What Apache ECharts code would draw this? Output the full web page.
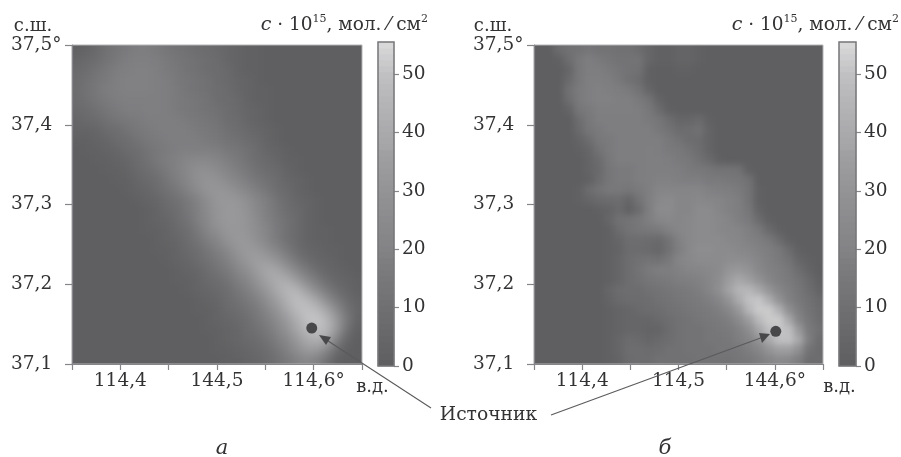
<!DOCTYPE html>
<html><head><meta charset="utf-8">
<style>html,body{margin:0;padding:0;background:#fff}#c{width:901px;height:457px}</style>
<script src="https://cdn.jsdelivr.net/npm/echarts@6/dist/echarts.min.js"></script>
</head><body><div id="c"></div>
<script>
// rows run from north to south; a row that stops early is 0 for the rest of its cells
const concentrationA = [
[1,3,6,10,13,15,17,17,15,13,11,10,8,7,6,4,3,1,1],
[4,6,8,11,14,17,18,18,17,15,13,11,10,8,7,4,3,1,1],
[6,8,11,14,17,18,19,19,18,15,14,11,10,8,7,6,3,1,1],
[7,10,13,15,18,19,19,19,18,17,14,13,11,10,7,6,4,3,1],
[7,11,14,17,18,19,19,19,18,17,15,13,11,10,8,7,4,3,1,1],
[7,10,13,15,17,18,18,18,18,17,15,14,13,11,8,7,6,3,1,1],
[6,7,10,13,15,17,17,18,18,17,15,14,13,11,10,8,6,4,3,1],
[4,6,7,10,13,14,15,17,17,17,17,15,14,13,11,8,7,4,3,1],
[3,3,4,7,8,11,14,15,17,17,17,17,15,14,13,10,8,6,4,3,1],
[1,1,3,4,7,8,11,14,15,17,17,17,17,15,14,11,10,7,6,3,1],
[0,1,1,3,4,7,8,11,14,15,18,18,18,18,17,14,13,10,7,4,3,1],
[0,0,1,1,3,4,7,10,14,17,19,22,23,23,21,18,15,11,8,6,4,1,1],
[0,0,0,1,1,3,6,8,11,15,19,23,27,27,25,21,17,14,10,7,6,3,1],
[0,0,0,0,1,1,4,6,8,13,17,22,27,30,29,25,21,17,13,10,7,4,3,1],
[0,0,0,0,0,1,3,4,7,10,14,19,25,30,31,30,26,22,17,13,8,6,3,1],
[0,0,0,0,0,0,1,3,4,7,10,14,19,26,31,32,31,27,22,17,11,7,4,3,1],
[0,0,0,0,0,0,0,1,3,6,8,13,18,25,30,32,32,29,23,18,13,8,6,3,1],
[0,0,0,0,0,0,0,1,3,4,7,11,17,23,30,32,32,30,25,19,14,10,6,3,1],
[0,0,0,0,0,0,0,1,1,3,6,8,14,21,27,31,32,30,26,21,15,10,6,3,1,1],
[0,0,0,0,0,0,0,0,1,3,4,7,11,17,22,29,32,32,27,22,15,10,6,3,1,1],
[0,0,0,0,0,0,0,0,1,1,3,6,8,13,18,23,30,33,32,27,21,14,8,4,3,1,1],
[0,0,0,0,0,0,0,0,0,1,3,4,7,10,14,19,26,32,35,34,29,21,13,7,4,3,1],
[0,0,0,0,0,0,0,0,0,0,1,3,4,7,11,15,21,27,34,39,38,31,22,14,8,4,3,1],
[0,0,0,0,0,0,0,0,0,0,1,1,3,6,8,11,17,22,30,37,42,41,33,23,15,8,4,3,1],
[0,0,0,0,0,0,0,0,0,0,0,1,3,4,6,8,13,18,25,32,40,46,45,35,25,15,8,4,1],
[0,0,0,0,0,0,0,0,0,0,0,0,1,3,4,7,10,14,19,27,35,43,49,46,38,26,15,7,3],
[0,0,0,0,0,0,0,0,0,0,0,0,1,1,3,6,7,11,15,22,30,39,47,50,47,38,25,11,4],
[0,0,0,0,0,0,0,0,0,0,0,0,0,1,3,4,6,8,13,18,25,33,42,50,51,46,32,15,3],
[0,0,0,0,0,0,0,0,0,0,0,0,0,1,1,3,4,7,10,14,21,29,38,46,49,46,32,10,1],
[0,0,0,0,0,0,0,0,0,0,0,0,0,0,1,3,4,6,7,11,17,23,32,40,43,38,19,4,0],
[0,0,0,0,0,0,0,0,0,0,0,0,0,0,1,1,3,4,6,8,13,19,27,33,33,23,7,1,0],
[0,0,0,0,0,0,0,0,0,0,0,0,0,0,0,1,1,3,4,6,10,14,19,23,19,10,1,0,0]
];
const concentrationB = [
[0,0,7,10,11,13,11,11,10,10,8,4,1,1,3,3,1],
[0,0,1,8,14,17,15,13,11,11,11,4,1,1,3,3,1],
[0,0,0,4,14,17,17,15,13,11,10,1,0,0,1,1,0],
[0,0,0,6,14,18,18,17,14,10,7,1],
[0,0,0,10,15,18,19,18,17,15,11,4],
[0,0,0,8,15,18,19,19,18,18,15,11,3],
[0,0,0,3,13,15,18,18,18,18,17,14,7,1],
[0,0,0,0,8,14,17,17,17,17,17,15,13,8,4,4,6,1],
[0,0,0,0,6,13,15,17,17,17,17,17,14,11,7,8,10,3],
[0,0,0,0,3,8,14,15,17,17,17,17,17,14,11,8,7,3],
[0,0,0,0,1,4,11,15,17,17,17,18,17,15,14,11,8,3],
[0,0,0,0,0,3,7,14,17,17,17,18,18,17,15,14,10,6,1],
[0,0,0,0,0,3,6,13,15,15,17,18,18,18,17,15,14,13,11,11,10,1],
[0,0,0,0,0,1,7,13,15,15,17,18,19,19,18,17,17,15,15,14,13,10],
[0,0,0,0,1,7,11,14,14,13,15,18,21,21,21,21,21,19,18,17,15,11,1],
[0,0,0,0,1,4,6,7,8,4,11,18,23,25,22,22,23,22,21,19,17,11,1],
[0,0,0,0,0,0,1,3,6,1,7,17,25,25,22,22,25,25,22,19,17,13,3],
[0,0,0,0,0,0,0,4,10,11,14,18,22,23,22,23,25,25,23,21,18,15,7,1],
[0,0,0,0,0,0,0,1,7,11,13,14,15,19,22,23,25,25,23,22,21,18,14,6,1],
[0,0,0,0,0,0,0,1,4,8,8,7,6,11,19,23,25,25,25,23,22,19,17,14,7,1],
[0,0,0,0,0,0,0,1,3,7,7,6,4,10,18,23,26,26,25,25,23,22,19,17,14,7,1],
[0,0,0,0,0,0,0,1,4,8,10,11,10,14,21,23,25,25,25,26,26,25,21,18,15,11,4,1],
[0,0,0,0,0,0,0,1,4,8,11,15,17,17,19,21,22,23,25,30,32,29,23,19,17,14,8,3,0],
[0,0,0,0,0,0,0,1,4,8,10,13,14,15,17,18,19,22,26,34,39,35,29,22,18,15,11,6,1],
[0,0,0,0,0,0,0,4,7,8,8,10,11,13,14,15,17,21,27,37,45,46,39,30,22,17,13,8,3],
[0,0,0,0,0,0,0,3,6,7,7,8,10,11,13,14,15,18,22,30,41,50,51,42,29,19,14,10,6],
[0,0,0,0,0,0,0,1,3,4,6,7,8,10,11,13,14,15,18,23,32,46,52,52,43,27,17,11,7],
[0,0,0,0,0,0,0,1,3,4,4,4,6,8,10,11,13,14,15,18,25,34,47,52,52,39,21,13,8],
[0,0,0,0,0,0,0,1,3,4,4,3,3,7,10,11,11,13,14,15,19,26,38,49,51,49,32,15,10],
[0,0,0,0,0,0,0,1,4,7,6,4,6,8,10,11,11,13,13,14,17,21,29,40,49,50,39,17,8],
[0,0,0,0,0,0,0,1,4,8,8,7,8,10,10,11,11,11,13,13,14,17,22,30,35,35,27,11,7],
[0,0,0,0,0,0,0,1,3,7,8,8,10,10,10,10,11,11,11,11,13,14,17,21,25,23,17,8,8]
];
const colorbarLevels = [0,1,2,3,4,5,6,7,8,9,10,11,12,13,14,15,16,17,19,20,21,22,23,24,25,26,27,28,29,30,31,32,33,34,35,36,38,39,40,41,42,43,44,45,46,47,48,49,50,51,52,53,54,55];
const colorbarTicks = [0,10,20,30,40,50];
const grayScale = ['#5f5f61','#68686a','#717174','#7a7a7d','#838386','#8b8b8e','#949497','#9e9ea1','#a9a9ac','#b4b4b7','#c0c0c2','#d8d8d9'];
const lonTicksA = ['', '114,4', '', '144,5', '', '114,6°', ''];
const lonTicksB = ['', '114,4', '', '114,5', '', '144,6°', ''];
const latTicks = ['37,1', '37,2', '37,3', '37,4', '37,5°'];
const sourceA = [114.598, 37.145];
const sourceB = [114.601, 37.141];

const SERIF = '"DejaVu Serif", serif';
const AX = '#86868a', TXT = '#333335';
const NCOL = 29;
const fillRow = r => r.concat(new Array(Math.max(0, NCOL - r.length)).fill(0));
// each field is drawn one cell wider than its frame on every side, repeating the edge values,
// so that the softening of the field does not fade at the frame
const padRow = r => { const f = fillRow(r); return [f[0], ...f, f[f.length - 1]]; };
const padded = rows => [padRow(rows[0]), ...rows.map(padRow), padRow(rows[rows.length - 1])];
const cells = rows => padded(rows).flatMap((r, y) => r.map((v, x) => [x, y, v]));
const idx = n => Array.from({length: n}, (_, i) => String(i));
const lab = {color: TXT, fontFamily: SERIF, fontSize: 18.5};

const panels = [
  {left: 72, width: 290, rows: concentrationA, lon: lonTicksA, src: sourceA, barLeft: 378, barWidth: 16, zlevel: -2, blur: 5},
  {left: 534, width: 289, rows: concentrationB, lon: lonTicksB, src: sourceB, barLeft: 839, barWidth: 17, zlevel: -1, blur: 3}
];
const grid = [], xAxis = [], yAxis = [], series = [];
panels.forEach((p, i) => {
  const g = grid.length;
  // field grid (10 px cells)
  grid.push({left: p.left - 10, top: 35, width: 310, height: 340, show: false});
  const xHeat = xAxis.length, yHeat = yAxis.length;
  xAxis.push({type: 'category', gridIndex: g, show: false, data: idx(31)});
  yAxis.push({type: 'category', gridIndex: g, show: false, inverse: true, data: idx(34)});
  series.push({type: 'heatmap', xAxisIndex: xHeat, yAxisIndex: yHeat, data: cells(p.rows), progressive: 0, zlevel: p.zlevel, itemStyle: {borderWidth: 0}});
  // frame with lon/lat axes
  grid.push({left: p.left, top: 45, width: p.width, height: 319, show: true, borderColor: '#b4b4b6', borderWidth: 1, backgroundColor: 'transparent'});
  xAxis.push({type: 'value', gridIndex: g + 1, min: 114.35, max: 114.65, interval: 0.05, position: 'bottom',
    splitLine: {show: false}, axisLine: {lineStyle: {color: AX, width: 1.2}},
    axisTick: {length: 6, lineStyle: {color: AX, width: 1.2}},
    axisLabel: Object.assign({}, lab, {margin: 8, hideOverlap: false, showMinLabel: true, showMaxLabel: true, formatter: (v, k) => p.lon[k] || ''})});
  yAxis.push({type: 'value', gridIndex: g + 1, min: 37.1, max: 37.5, interval: 0.1, position: 'left',
    splitLine: {show: false}, axisLine: {lineStyle: {color: AX, width: 1.2}},
    axisTick: {length: 7, lineStyle: {color: AX, width: 1.2}},
    axisLabel: Object.assign({}, lab, {align: 'left', margin: 61, showMinLabel: true, showMaxLabel: true, formatter: (v, k) => latTicks[k]})});
  series.push({type: 'scatter', xAxisIndex: xHeat + 1, yAxisIndex: yHeat + 1, data: [p.src], symbolSize: 11, z: 6, itemStyle: {color: '#48484b', opacity: 1}, silent: true});
  // colour bar
  grid.push({left: p.barLeft, top: 42, width: p.barWidth, height: 324, show: true, borderColor: '#77777a', borderWidth: 1.5, backgroundColor: 'transparent', z: 5});
  xAxis.push({type: 'category', gridIndex: g + 2, show: false, data: ['c']});
  yAxis.push({type: 'category', gridIndex: g + 2, show: false, data: colorbarLevels.map(String)});
  yAxis.push({type: 'value', gridIndex: g + 2, min: 0, max: 55.5, position: 'right',
    splitLine: {show: false}, axisLine: {show: false},
    axisTick: {show: true, length: 5, customValues: colorbarTicks, lineStyle: {color: AX, width: 1.2}},
    axisLabel: Object.assign({}, lab, {margin: 8, customValues: colorbarTicks, formatter: v => String(v)})});
  series.push({type: 'heatmap', xAxisIndex: xHeat + 2, yAxisIndex: yHeat + 2, data: colorbarLevels.map((v, k) => [0, k, v]), progressive: 0});
});
const heatIdx = series.map((s, i) => s.type === 'heatmap' ? i : -1).filter(i => i >= 0);
const title = x => ({type: 'text', x, y: 25, silent: true, style: {
  text: '{i|c} · 10{s|15}, мол. ⁄ см{s|2}', align: 'right', verticalAlign: 'middle', fill: TXT,
  fontFamily: SERIF, fontSize: 18.5,
  rich: {i: {fontFamily: SERIF, fontStyle: 'italic', fontSize: 19, fill: TXT, color: TXT},
         s: {fontFamily: SERIF, fontSize: 11, verticalAlign: 'top', lineHeight: 22, color: TXT, fill: TXT}}}});
const txt = (x, y, text, size, extra) => ({type: 'text', x, y, silent: true, style: Object.assign({text, fill: TXT, fontFamily: SERIF, fontSize: size, align: 'center', verticalAlign: 'middle'}, extra || {})});
const seg = (x1, y1, x2, y2) => ({type: 'line', silent: true, z: 20, shape: {x1, y1, x2, y2}, style: {stroke: '#5a5a5d', lineWidth: 1.1}});
const head = pts => ({type: 'polygon', silent: true, z: 20, shape: {points: pts}, style: {fill: '#48484b'}});
const graphic = [
  title(428), title(899),
  txt(33, 26, 'с.ш.', 18), txt(493, 26, 'с.ш.', 18),
  txt(372.5, 387, 'в.д.', 18), txt(839.5, 387, 'в.д.', 18),
  txt(488.5, 415, 'Источник', 18.7),
  txt(222, 449, 'а', 21, {fontStyle: 'italic'}), txt(665, 449, 'б', 21, {fontStyle: 'italic'}),
  seg(431, 408, 322, 337), head([[319, 335], [331, 337], [326, 345]]),
  seg(551, 415, 766, 336), head([[770, 334], [759, 333], [762, 343]])
].map(e => Object.assign({z: 20}, e));

const chart = echarts.init(document.getElementById('c'), null, {renderer: 'canvas'});
chart.setOption({
  animation: false, backgroundColor: 'transparent', grid, xAxis, yAxis, series, graphic,
  visualMap: {type: 'continuous', show: false, min: 0, max: 55, seriesIndex: heatIdx, inRange: {color: grayScale}}
});
// soften each field and crop it back to its frame
panels.forEach(p => {
  const layer = chart.getDom().querySelector('canvas[data-zr-dom-id="zr_' + p.zlevel + '"]');
  if (!layer) return;
  const r = 901 - p.left - p.width, b = 457 - 364;
  layer.style.filter = 'blur(' + p.blur + 'px)';
  layer.style.clipPath = 'inset(45px ' + r + 'px ' + b + 'px ' + p.left + 'px)';
});
</script></body></html>
